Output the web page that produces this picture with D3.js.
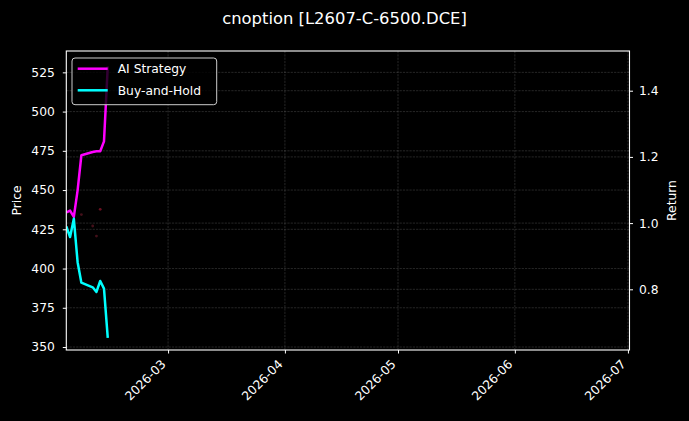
<!DOCTYPE html>
<html>
<head>
<meta charset="utf-8">
<script src="https://cdn.jsdelivr.net/npm/d3@7"></script>
<style>
  html, body { margin: 0; padding: 0; background: #000; }
  svg { display: block; font-family: "DejaVu Sans", sans-serif; }
</style>
</head>
<body>
<script>
// values
const dates = ['2026-02-02', '2026-02-03', '2026-02-04', '2026-02-05', '2026-02-06',
  '2026-02-09', '2026-02-10', '2026-02-11', '2026-02-12', '2026-02-13'];
const aiStrategy = [1.032, 1.038, 1.019, 1.099, 1.205, 1.215, 1.217, 1.217, 1.247, 1.473];
const buyHold = [0.990, 0.958, 1.013, 0.882, 0.820, 0.806, 0.792, 0.825, 0.802, 0.653];
const signalDates = ['2026-02-06', '2026-02-09', '2026-02-10', '2026-02-11'];
const signalPrices = [434.4, 427.1, 420.7, 437.7];
const priceTicks = [350, 375, 400, 425, 450, 475, 500, 525];
const returnTicks = [0.8, 1.0, 1.2, 1.4];
const monthTicks = ['2026-03-01', '2026-04-01', '2026-05-01', '2026-06-01', '2026-07-01'];
const dateRange = ['2026-02-02T00:00', '2026-07-01T10:00'];
const priceRange = [348.1, 538.6];
const returnRange = [0.6166, 1.52];

const width = 689;
const height = 421;
const box = { left: 66.3, right: 629.5, top: 51, bottom: 350 };

const parse = d3.utcParse('%Y-%m-%d');
const parseT = d3.utcParse('%Y-%m-%dT%H:%M');

const svg = d3.select('body').append('svg')
  .attr('width', width)
  .attr('height', height);

svg.append('rect').attr('width', width).attr('height', height).attr('fill', '#000');

const x = d3.scaleUtc()
  .domain(dateRange.map(parseT))
  .range([box.left, box.right]);
const yPrice = d3.scaleLinear().domain(priceRange).range([box.bottom, box.top]);
const yRet = d3.scaleLinear().domain(returnRange).range([box.bottom, box.top]);

svg.append('clipPath').attr('id', 'plot')
  .append('rect')
  .attr('x', box.left).attr('y', box.top)
  .attr('width', box.right - box.left).attr('height', box.bottom - box.top);

// grid lines, both y axes + month ticks
const grid = svg.append('g')
  .attr('stroke', '#fff')
  .attr('stroke-opacity', 0.25)
  .attr('stroke-width', 0.6)
  .attr('stroke-dasharray', '2.2,1.1');

grid.selectAll('.gx').data(monthTicks).enter().append('line')
  .attr('x1', d => x(parse(d))).attr('x2', d => x(parse(d)))
  .attr('y1', box.top).attr('y2', box.bottom);
grid.selectAll('.gp').data(priceTicks).enter().append('line')
  .attr('x1', box.left).attr('x2', box.right)
  .attr('y1', d => yPrice(d)).attr('y2', d => yPrice(d));
grid.selectAll('.gr').data(returnTicks).enter().append('line')
  .attr('x1', box.left).attr('x2', box.right)
  .attr('y1', d => yRet(d)).attr('y2', d => yRet(d));

// trade markers on the price axis (very faint)
svg.append('g').attr('clip-path', 'url(#plot)')
  .selectAll('circle').data(signalDates).enter().append('circle')
  .attr('cx', d => x(parse(d)))
  .attr('cy', (d, i) => yPrice(signalPrices[i]))
  .attr('r', 1.4)
  .attr('fill', (d, i) => i === 3 ? '#6a1020' : '#44101a');

const line = d3.line()
  .x((d, i) => x(parse(dates[i])))
  .y(d => yRet(d));

const lines = svg.append('g').attr('clip-path', 'url(#plot)');
lines.append('path').datum(aiStrategy)
  .attr('d', line)
  .attr('fill', 'none')
  .attr('stroke', '#ff00ff')
  .attr('stroke-width', 2.5)
  .attr('stroke-linejoin', 'round');
lines.append('path').datum(buyHold)
  .attr('d', line)
  .attr('fill', 'none')
  .attr('stroke', '#00ffff')
  .attr('stroke-width', 2.5)
  .attr('stroke-linejoin', 'round');

// axes
function styleAxis(g) {
  g.select('.domain').remove();
  g.selectAll('.tick line').attr('stroke', '#fff').attr('stroke-width', 1);
  g.selectAll('.tick text').attr('fill', '#fff').attr('font-size', 12.3)
    .attr('font-family', '"DejaVu Sans", sans-serif');
}

svg.append('g')
  .attr('transform', `translate(${box.left},0)`)
  .call(d3.axisLeft(yPrice).tickValues(priceTicks).tickSize(3.5).tickPadding(8))
  .call(styleAxis);

svg.append('g')
  .attr('transform', `translate(${box.right},0)`)
  .call(d3.axisRight(yRet).tickValues(returnTicks).tickSize(3.5).tickPadding(6)
    .tickFormat(d3.format('.1f')))
  .call(styleAxis);

const xAxis = svg.append('g')
  .attr('transform', `translate(0,${box.bottom})`)
  .call(d3.axisBottom(x).tickValues(monthTicks.map(parse)).tickSize(3.5)
    .tickFormat(d3.utcFormat('%Y-%m')))
  .call(styleAxis);

xAxis.selectAll('.tick text')
  .attr('text-anchor', 'end')
  .attr('y', 0).attr('dy', 0)
  .attr('transform', 'translate(-2,15) rotate(-45)');

// frame
svg.append('rect')
  .attr('x', box.left).attr('y', box.top)
  .attr('width', box.right - box.left).attr('height', box.bottom - box.top)
  .attr('fill', 'none')
  .attr('stroke', '#fff')
  .attr('stroke-width', 1.1);

// labels
svg.append('text')
  .attr('x', width / 2).attr('y', 24)
  .attr('text-anchor', 'middle')
  .attr('fill', '#fff').attr('font-size', 16.4)
  .text('cnoption [L2607-C-6500.DCE]');

svg.append('text')
  .attr('transform', `translate(21,${(box.top + box.bottom) / 2}) rotate(-90)`)
  .attr('text-anchor', 'middle')
  .attr('fill', '#fff').attr('font-size', 12.3)
  .text('Price');

svg.append('text')
  .attr('transform', `translate(676,${(box.top + box.bottom) / 2}) rotate(-90)`)
  .attr('text-anchor', 'middle')
  .attr('fill', '#fff').attr('font-size', 12.3)
  .text('Return');

// legend
const legend = svg.append('g');
legend.append('rect')
  .attr('x', 72).attr('y', 58)
  .attr('width', 144.7).attr('height', 46.7)
  .attr('rx', 3)
  .attr('fill', '#000').attr('fill-opacity', 0.8)
  .attr('stroke', '#ccc').attr('stroke-width', 1);

const legendItems = [
  { name: 'AI Strategy', color: '#ff00ff' },
  { name: 'Buy-and-Hold', color: '#00ffff' }
];
legendItems.forEach((d, i) => {
  const ly = 68.7 + i * 21.6;
  legend.append('line')
    .attr('x1', 77.7).attr('x2', 107.7)
    .attr('y1', ly).attr('y2', ly)
    .attr('stroke', d.color).attr('stroke-width', 2.5);
  legend.append('text')
    .attr('x', 117.7).attr('y', ly + 4.4)
    .attr('fill', '#fff').attr('font-size', 12.3)
    .text(d.name);
});
</script>
</body>
</html>
